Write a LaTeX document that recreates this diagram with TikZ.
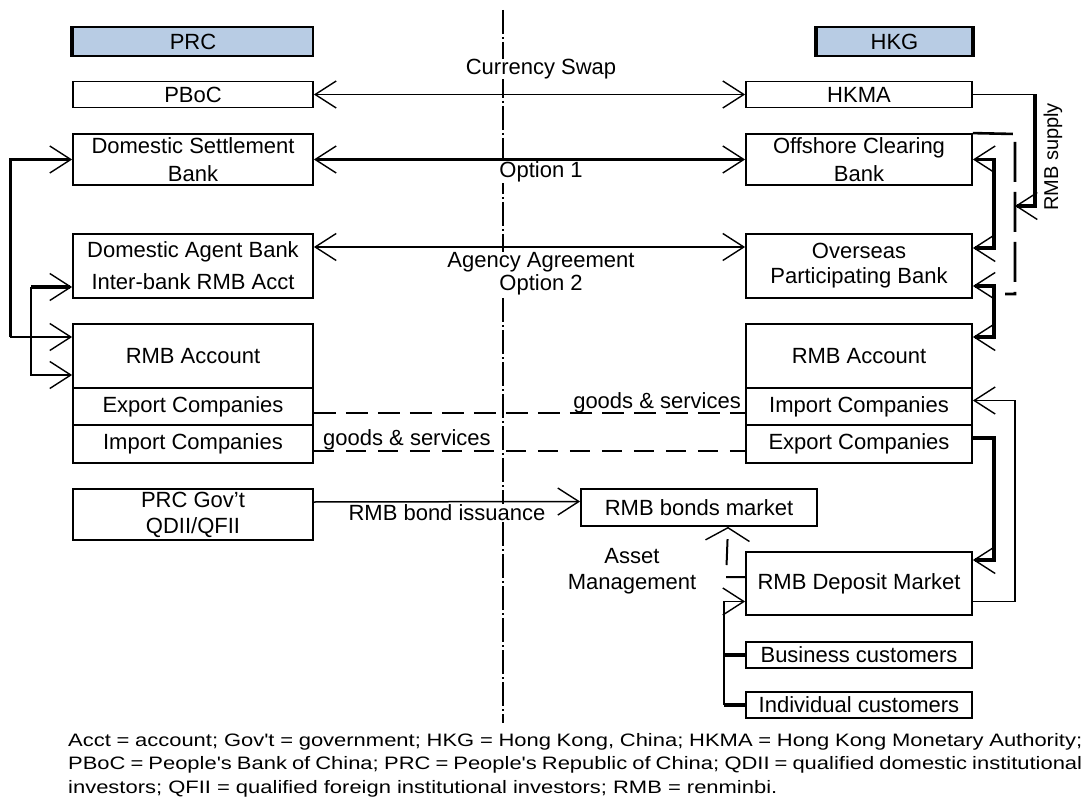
\documentclass[tikz,border=0pt]{standalone}
\usepackage{fontspec}
\setmainfont{Liberation Sans}
\newfontfamily\notefont[FakeStretch=1.22]{Liberation Sans}
\usetikzlibrary{arrows.meta,calc}
\definecolor{hdrblue}{HTML}{B8CCE4}

\begin{document}
\begin{tikzpicture}[x=1pt, y=-1pt,
  >={Straight Barb[length=21pt,width=27pt,line width=1.4pt]},
  font=\fontsize{22}{28}\selectfont]
\tikzset{
  box/.style={draw, line width=1.8pt, inner sep=0pt, align=center},
  leftbox/.style={box, minimum width=240pt},
  rightbox/.style={box, minimum width=226pt},
  link/.style={line width=1.5pt},
  heavy/.style={line width=3.2pt},
  lbl/.style={fill=white, inner sep=0.5pt, align=center},
  divider/.style={line width=2.6pt, dash pattern=on 24pt off 3pt on 2pt off 3pt},
  trade/.style={line width=2.6pt, dash pattern=on 22pt off 10pt},
  tradethin/.style={line width=1.8pt, dash pattern=on 20pt off 12pt},
  note/.style={font=\notefont\fontsize{18}{23.5}\selectfont, inner sep=0pt}
}
\useasboundingbox (0,0) rectangle (1086,799);

% border line between the two sides
\draw[divider] (503,10) -- (503,723);

% -------- PRC (left) ----------
\node (prc) [leftbox, fill=hdrblue, minimum height=29pt] at (193,41.5) {PRC};
\draw[line width=4pt] (prc.north west) -- (prc.south west);
\node (pboc) [leftbox, minimum height=26pt] at (193,94.5) {PBoC};
\node (dsb) [leftbox, minimum height=51pt] at (193,159.5) {Domestic Settlement\\Bank};
\node (dab) [leftbox, minimum height=64pt] at (193,266) {Domestic Agent Bank\\[4pt]Inter-bank RMB Acct};
\node (rmbacctl) [leftbox, minimum height=64pt] at (193,356) {RMB Account};
\node (exportl) [leftbox, minimum height=37pt] at (193,406.5) {Export Companies};
\node (importl) [leftbox, minimum height=38pt] at (193,444) {Import Companies};
\node (gov) [leftbox, minimum height=51pt] at (193,514.5) {PRC Gov't\\[-2pt]QDII/QFII};

% -------- HKG (right) ----------
\node (hkg) [box, fill=hdrblue, minimum width=155pt, minimum height=29pt] at (894.5,41.5) {HKG};
\draw[line width=4pt] (hkg.north west) -- (hkg.south west) (hkg.north east) -- (hkg.south east);
\node (hkma) [rightbox, minimum height=26pt] at (859,94.5) {HKMA};
\node (ocb) [rightbox, minimum height=51pt] at (859,159.5) {Offshore Clearing\\Bank};
\node (opb) [rightbox, minimum height=64pt] at (859,266) {Overseas\\[-3pt]Participating Bank};
\node (rmbacctr) [rightbox, minimum height=64pt] at (859,356) {RMB Account};
\node (importr) [rightbox, minimum height=37pt] at (859,406.5) {Import Companies};
\node (exportr) [rightbox, minimum height=38pt] at (859,444) {Export Companies};
\node (bonds) [box, minimum width=236pt, minimum height=37pt] at (699,507.5) {RMB bonds market};
\node (deposit) [rightbox, minimum height=63pt] at (859,583.5) {RMB Deposit Market};
\node (business) [rightbox, minimum height=26pt] at (859,655) {Business customers};
\node (individual) [rightbox, minimum height=26pt] at (859,705) {Individual customers};

% -------- across the border ----------
\draw[link,<->] (pboc.east) -- (hkma.west);
\draw[heavy,<->] (dsb.east) -- (ocb.west);
\draw[link,<->] ([yshift=19pt]dab.east) -- ([yshift=19pt]opb.west);
\draw[trade] ([yshift=-6.5pt]exportl.east) -- ([yshift=-6.5pt]importr.west);
\draw[tradethin] ([yshift=-7pt]importl.east) -- ([yshift=-7pt]exportr.west);
\draw[link,->] ([yshift=12.5pt]gov.east) -- ([yshift=6pt]bonds.west);

\node (swap) [lbl] at (541,69) {Currency Swap};
\node (opt1) [lbl] at (541,172) {Option 1};
\node (agency) [lbl] at (541,273.5) {Agency Agreement\\[-5pt]Option 2};
\node (issue) [lbl] at (447,513) {RMB bond issuance};
\node (gs1) [anchor=base east, inner sep=0pt] at (741,408) {goods \& services};
\node (gs2) [anchor=base west, inner sep=0pt] at (323,445) {goods \& services};

% -------- left loops ----------
\coordinate (racl1) at ([yshift=19pt]rmbacctl.west);
\coordinate (racl2) at ([yshift=-19pt]rmbacctl.west);
\draw[heavy,<-] (dsb.west) -- ++(-62,0) coordinate (lc1) -- (lc1 |- racl1);
\draw[link,->] (lc1 |- racl1) -- (racl1);
\draw[heavy,<-] ([yshift=-21pt]dab.west) -- ++(-41,0) coordinate (lc2);
\draw[link,->] (lc2) |- (racl2);

% -------- right loops ----------
\draw[heavy,<->] (ocb.east) -- ++(21,0) |- ([yshift=18pt]opb.east);
\draw[heavy,<->] ([yshift=-20pt]opb.east) -- ++(21,0) |- ([yshift=19pt]rmbacctr.east);
\draw[heavy,->] ([yshift=6pt]exportr.east) -- ++(21,0) |- ([yshift=23.5pt]deposit.east);
\draw[link,->] ([yshift=-18pt]deposit.east) -- ++(42,0) |- ([yshift=6pt]importr.east);

% RMB supply
\coordinate (brtop) at (1015,134);
\coordinate (brbot) at (1015,294);
\coordinate (supplyin) at (1015,206);
\draw[line width=2.6pt, dash pattern=on 40pt off 10pt] (ocb.north east) -- (brtop) -- (brbot) -- ++(-10,0);
\draw[link] (hkma.east) -- ++(62,0) coordinate (hk1);
\draw[heavy,->] (hk1) |- (supplyin);
\node (supply) [rotate=90, font=\fontsize{20}{24}\selectfont] at (1053,157) {RMB supply};

% -------- deposit market ----------
\draw[line width=2pt, dash pattern=on 19pt off 12pt on 26pt off 20pt,
  -{Straight Barb[length=13pt,width=44pt,line width=1.4pt]}]
  ([yshift=6.5pt]deposit.west) -- ++(-19,0) -- ([xshift=29pt]bonds.south);
\node (asset) [align=center, inner sep=0pt] at (632,571) {Asset\\[-2pt]Management};
\foreach \c in {business,individual}
  \draw[heavy] (\c.west) -- ++(-21,0);
\draw[link,->] ([xshift=-21pt]individual.west) |- ([yshift=-18pt]deposit.west);

% -------- notes ----------
\node (note1) [note, anchor=base west] at (68,746) {\hbox to 1014pt{Acct = account; Gov't = government; HKG = Hong Kong, China; HKMA = Hong Kong Monetary Authority;}};
\node (note2) [note, anchor=base west] at (68,769.5) {\hbox to 1014pt{PBoC = People's Bank of China; PRC = People's Republic of China; QDII = qualified domestic institutional}};
\node (note3) [note, anchor=base west] at (68,793) {investors; QFII = qualified foreign institutional investors; RMB = renminbi.};
\end{tikzpicture}
\end{document}
